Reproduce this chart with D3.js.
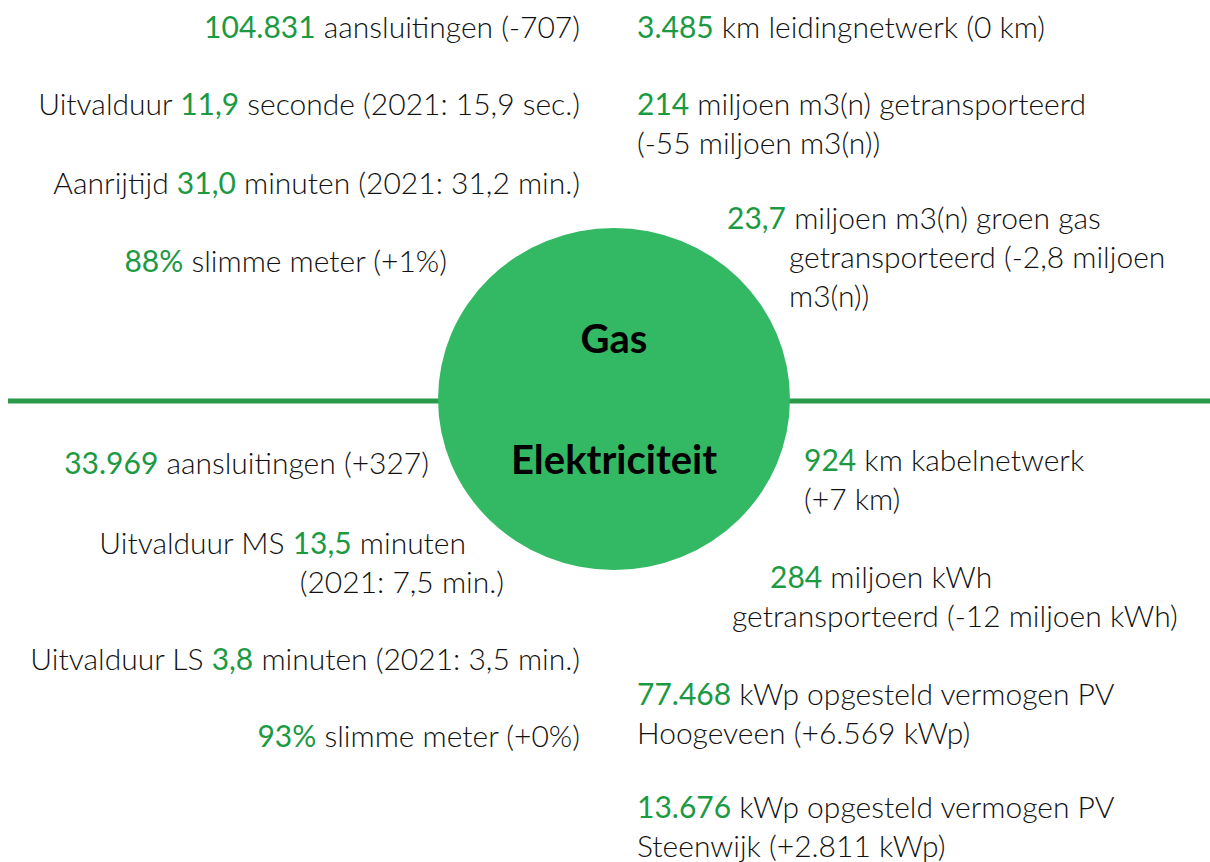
<!DOCTYPE html>
<html>
<head>
<meta charset="utf-8">
<script src="https://cdn.jsdelivr.net/npm/d3@7"></script>
<style>
  body { margin: 0; background: #fff; }
  text { font-family: Lato, "Open Sans", sans-serif; }
</style>
</head>
<body>
<div id="chart"></div>
<script>
// circle labels
const sections = ["Gas", "Elektriciteit"];

// each item: lines of [text, highlight]
const gasLeft = [
    [[["104.831", true], [" aansluitingen (-707)", false]]],
    [[["Uitvalduur ", false], ["11,9", true], [" seconde (2021: 15,9 sec.)", false]]],
    [[["Aanrijtijd ", false], ["31,0", true], [" minuten (2021: 31,2 min.)", false]]],
    [[["88%", true], [" slimme meter (+1%)", false]]]
];
const gasRight = [
    [[["3.485", true], [" km leidingnetwerk (0 km)", false]]],
    [[["214", true], [" miljoen m3(n) getransporteerd", false]],
     [["(-55 miljoen m3(n))", false]]],
    [[["23,7", true], [" miljoen m3(n) groen gas", false]],
     [["getransporteerd (-2,8 miljoen", false]],
     [["m3(n))", false]]]
];
const elecLeft = [
    [[["33.969", true], [" aansluitingen (+327)", false]]],
    [[["Uitvalduur MS ", false], ["13,5", true], [" minuten", false]],
     [["(2021: 7,5 min.)", false]]],
    [[["Uitvalduur LS ", false], ["3,8", true], [" minuten (2021: 3,5 min.)", false]]],
    [[["93%", true], [" slimme meter (+0%)", false]]]
];
const elecRight = [
    [[["924", true], [" km kabelnetwerk", false]],
     [["(+7 km)", false]]],
    [[["284", true], [" miljoen kWh", false]],
     [["getransporteerd (-12 miljoen kWh)", false]]],
    [[["77.468", true], [" kWp opgesteld vermogen PV", false]],
     [["Hoogeveen (+6.569 kWp)", false]]],
    [[["13.676", true], [" kWp opgesteld vermogen PV", false]],
     [["Steenwijk (+2.811 kWp)", false]]]
];

const width = 1210, height = 862;
const cx = 614, cy = 399;
const lineH = 39;
const green = "#1b9a43";

const svg = d3.select("#chart").append("svg")
    .attr("width", width)
    .attr("height", height);

// divider line
svg.append("line")
    .attr("x1", 8).attr("x2", width)
    .attr("y1", 401).attr("y2", 401)
    .attr("stroke", "#2a9a4a")
    .attr("stroke-width", 5);

// circle
svg.append("ellipse")
    .attr("cx", cx).attr("cy", cy)
    .attr("rx", 176).attr("ry", 171)
    .attr("fill", "#33b964");

svg.selectAll(".section")
    .data(sections)
    .enter()
    .append("text")
    .attr("class", "section")
    .attr("x", cx)
    .attr("y", (d, i) => i === 0 ? 353 : 474)
    .attr("text-anchor", "middle")
    .attr("font-size", 40)
    .attr("font-weight", 700)
    .attr("fill", "#000")
    .text(d => d);

// draw a block of lines, anchor "end" or "start"
function drawItem(item, x, y, anchor, xs) {
    item.forEach((line, li) => {
        const t = svg.append("text")
            .attr("x", xs ? xs[li] : x)
            .attr("y", y + li * lineH)
            .attr("text-anchor", anchor)
            .attr("font-size", 30)
            .attr("font-weight", 300)
            .attr("fill", "#111");
        line.forEach(seg => {
            t.append("tspan")
                .attr("fill", seg[1] ? green : "#111")
                .attr("font-weight", seg[1] ? 400 : 300)
                .text(seg[0]);
        });
    });
}

// gas side
const gasLeftY = [38, 115, 194, 272];
const gasLeftX = [580, 580, 580, 447];
gasLeft.forEach((item, i) => drawItem(item, gasLeftX[i], gasLeftY[i], "end"));

drawItem(gasRight[0], 637, 38, "start");
drawItem(gasRight[1], 637, 115, "start");
drawItem(gasRight[2], 0, 229, "start", [727, 789, 789]);

// electricity side
drawItem(elecLeft[0], 429, 474, "end");
drawItem(elecLeft[1], 0, 554, "end", [466, 504]);
drawItem(elecLeft[2], 580, 670, "end");
drawItem(elecLeft[3], 580, 747, "end");

drawItem(elecRight[0], 804, 471, "start");
drawItem(elecRight[1], 0, 588, "start", [770, 732]);
drawItem(elecRight[2], 637, 705, "start");
drawItem(elecRight[3], 637, 818, "start");
</script>
</body>
</html>
